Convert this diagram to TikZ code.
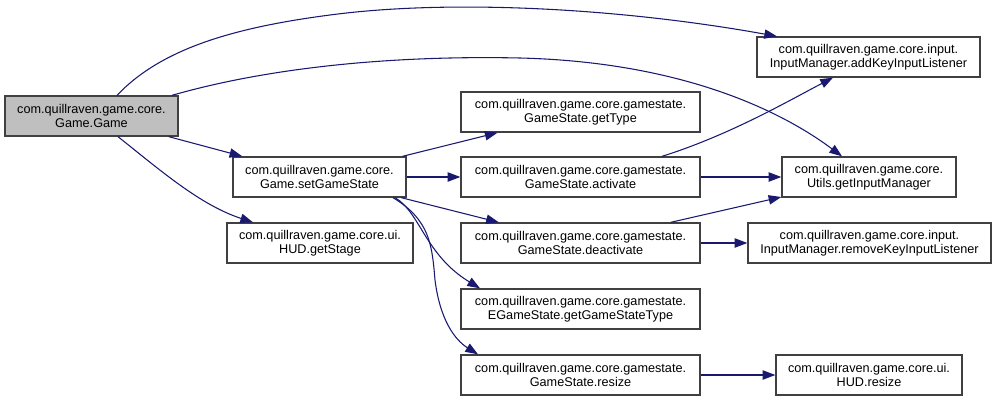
\documentclass[tikz,border=0pt]{standalone}
\usepackage{fontspec}
\setmainfont{Liberation Sans}
\usepackage{tikz}
\usetikzlibrary{arrows.meta,positioning}
\definecolor{edgeblue}{RGB}{25,25,112}
\definecolor{rootgray}{RGB}{191,191,191}

\begin{document}
\begin{tikzpicture}[
x=0.75pt,y=-0.75pt,
font=\fontsize{9.5}{10.5}\selectfont,
func/.style={draw=black!75,line width=1pt,fill=white,align=center,inner sep=0pt,minimum height=30pt},
call/.style={-{Triangle[length=9.5pt,width=7pt]},draw=edgeblue,line width=0.8pt},
scale=1]
    \useasboundingbox (0,0) rectangle (996,400);

    % Draw functions
    \node[func,fill=rootgray,minimum width=129.75pt] (game) at (91.5,116) {com.quillraven.game.core.\\Game.Game};
    \node[func,minimum width=129.75pt] (setstate) at (319.5,177) {com.quillraven.game.core.\\Game.setGameState};
    \node[func,minimum width=139.5pt] (getstage) at (320,243) {com.quillraven.game.core.ui.\\HUD.getStage};

    \node[func,minimum width=179.25pt] (gettype) at (580.5,112) {com.quillraven.game.core.gamestate.\\GameState.getType};
    \node[func,minimum width=179.25pt] (activate) at (580.5,177) {com.quillraven.game.core.gamestate.\\GameState.activate};
    \node[func,minimum width=179.25pt] (deactivate) at (580.5,243) {com.quillraven.game.core.gamestate.\\GameState.deactivate};
    \node[func,minimum width=179.25pt] (statetype) at (580.5,309) {com.quillraven.game.core.gamestate.\\EGameState.getGameStateType};
    \node[func,minimum width=179.25pt] (resize) at (580.5,375) {com.quillraven.game.core.gamestate.\\GameState.resize};

    \node[func,minimum width=167.25pt] (addkey) at (868.5,57) {com.quillraven.game.core.input.\\InputManager.addKeyInputListener};
    \node[func,minimum width=130.5pt] (utils) at (869,177) {com.quillraven.game.core.\\Utils.getInputManager};
    \node[func,minimum width=182.25pt] (removekey) at (869.5,243) {com.quillraven.game.core.input.\\InputManager.removeKeyInputListener};
    \node[func,minimum width=139.5pt] (hudresize) at (869,375) {com.quillraven.game.core.ui.\\HUD.resize};

    % Draw calls
    \draw[call] (117,0 |- game.north) .. controls (160,50) and (230,28) .. (330,15)
        .. controls (450,-1) and (620,8) .. (777,0 |- addkey.north);
    \draw[call] (172,0 |- game.north) .. controls (260,70) and (380,55) .. (520,58)
        .. controls (680,62) and (780,110) .. (842,0 |- utils.north);
    \draw[call] (game) -- (setstate);
    \draw[call] (118,0 |- game.south) .. controls (160,170) and (200,205) .. (253,0 |- getstage.north);

    \draw[call] (setstate) -- (gettype);
    \draw[call] (setstate) -- (activate);
    \draw[call] (setstate) -- (deactivate);
    \draw[call] (395,0 |- setstate.south) .. controls (420,212) and (425,255) .. (480,0 |- statetype.north);
    \draw[call] (393,0 |- setstate.south) .. controls (430,220) and (432,245) .. (435,280)
        .. controls (440,320) and (455,340) .. (478,0 |- resize.north);

    \draw[call] (662,0 |- activate.north) .. controls (730,135) and (790,100) .. (833,0 |- addkey.south);
    \draw[call] (activate) -- (utils);
    \draw[call] (deactivate) -- (utils);
    \draw[call] (deactivate) -- (removekey);
    \draw[call] (resize) -- (hudresize);

\end{tikzpicture}
\end{document}
